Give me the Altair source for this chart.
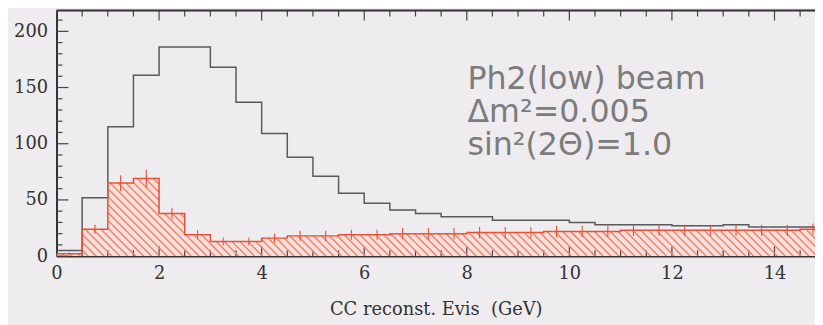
import altair as alt
import pandas as pd

# ---- data ----
bin_lo = [0.0, 0.5, 1.0, 1.5, 2.0, 2.5, 3.0, 3.5, 4.0, 4.5,
          5.0, 5.5, 6.0, 6.5, 7.0, 7.5, 8.0, 8.5, 9.0, 9.5,
          10.0, 10.5, 11.0, 11.5, 12.0, 12.5, 13.0, 13.5, 14.0, 14.5]
bin_width = 0.5
no_osc = [5, 52, 115, 161, 186, 186, 168, 137, 109, 88,
          71, 56, 47, 41, 38, 35, 35, 32, 32, 32,
          30, 28, 28, 28, 27, 27, 28, 26, 26, 26]
osc = [2, 24, 65, 69, 38, 19, 13, 13, 16, 18,
       18, 19, 19, 20, 20, 20, 21, 21, 21, 22,
       22, 22, 23, 23, 23, 23, 23, 23, 23, 24]
osc_err = [1.5, 4, 7, 8, 5, 4, 3.5, 3.5, 4, 4.5,
           4.5, 4.5, 4.5, 5, 5, 5, 5, 5, 5, 5,
           5, 5, 5, 5, 5, 5, 5, 5, 5, 5]
x_labels = [0, 2, 4, 6, 8, 10, 12, 14]
y_labels = [0, 50, 100, 150, 200]
x_minor = [0.5, 1, 1.5, 2.5, 3, 3.5, 4.5, 5, 5.5, 6.5, 7, 7.5, 8.5, 9, 9.5,
           10.5, 11, 11.5, 12.5, 13, 13.5, 14.5]
y_minor = [10, 20, 30, 40, 60, 70, 80, 90, 110, 120, 130, 140, 160, 170, 180,
           190, 210]
notes = ["Ph2(low) beam", "Δm²=0.005", "sin²(2Θ)=1.0"]
x_title = "CC reconst. Evis \u00a0(GeV)"

# ---- geometry ----
W, H = 766, 248
XMAX, YMAX = 14.79, 218.5
sx, sy = W / XMAX, H / YMAX

xs = alt.Scale(domain=[0, XMAX], nice=False, zero=False)
ys = alt.Scale(domain=[0, YMAX], nice=False, zero=False)

bins = pd.DataFrame({
    "lo": bin_lo,
    "hi": [b + bin_width for b in bin_lo],
    "mid": [b + bin_width / 2 for b in bin_lo],
    "no_osc": no_osc,
    "osc": osc,
    "elo": [v - e for v, e in zip(osc, osc_err)],
    "ehi": [v + e for v, e in zip(osc, osc_err)],
})

def steps(vals):
    xs_ = list(bin_lo) + [bin_lo[-1] + bin_width]
    ys_ = list(vals) + [vals[-1]]
    return pd.DataFrame({"x": xs_, "y": ys_})

# hatch segments inside the red bars (45 degree in screen space)
seg = []
spacing = 8.0
for lo, v in zip(bin_lo, osc):
    u0, u1, h = lo * sx, (lo + bin_width) * sx, v * sy
    c = 0.0
    while c < W + 60 + H:
        ua, ub = max(u0, c - h), min(u1, c)
        if ub > ua:
            seg.append({"x": ua / sx, "y": (c - ua) / sy,
                        "x2": ub / sx, "y2": (c - ub) / sy})
        c += spacing
hatch_df = pd.DataFrame(seg)

# ---- layers ----
axis_x = alt.Axis(values=x_labels, ticks=False, grid=False, domain=True,
                  domainColor="#333333", domainWidth=2,
                  labelFont="DejaVu Serif", labelFontSize=18, labelColor="#333333",
                  labelPadding=9, labelFlush=False,
                  title=x_title, titleFont="DejaVu Serif", titleFontSize=18,
                  titleFontWeight="normal", titleColor="#333333", titlePadding=18)
axis_y = alt.Axis(values=y_labels, ticks=False, grid=False, domain=True,
                  domainColor="#333333", domainWidth=2,
                  labelFont="DejaVu Serif", labelFontSize=18, labelColor="#333333",
                  labelPadding=9, labelFlush=False, title=None)

fill = alt.Chart(bins).mark_rect(color="#f6e1de", clip=True).encode(
    x=alt.X("lo:Q", scale=xs, axis=axis_x), x2="hi",
    y=alt.Y("osc:Q", scale=ys, axis=axis_y), y2=alt.datum(0))

TC = "#444444"

def xticks(vals, length, at_top):
    df = pd.DataFrame({"x": vals})
    y0 = 0 if at_top else H
    y1 = length if at_top else H - length
    return alt.Chart(df).mark_rule(color=TC, strokeWidth=1.2, clip=True).encode(
        x=alt.X("x:Q", scale=xs), y=alt.value(y0), y2=alt.value(y1))

def yticks(vals, length):
    df = pd.DataFrame({"y": vals})
    return alt.Chart(df).mark_rule(color=TC, strokeWidth=1.2).encode(
        y=alt.Y("y:Q", scale=ys), x=alt.value(0), x2=alt.value(length))

tick_layers = [
    xticks(x_labels, 10, False), xticks(x_minor, 6, False),
    xticks(x_labels, 10, True), xticks(x_minor, 6, True),
    yticks(y_labels, 12), yticks(y_minor, 6),
]

top_line = alt.Chart(pd.DataFrame({"a": [0]})).mark_rule(color="#333333", strokeWidth=2).encode(
    y=alt.value(0), x=alt.value(0), x2=alt.value(W))

hatch = alt.Chart(hatch_df).mark_rule(color="#f08a70", strokeWidth=1.6, clip=True).encode(
    x=alt.X("x:Q", scale=xs), y=alt.Y("y:Q", scale=ys),
    x2="x2:Q", y2="y2:Q")

red_step = alt.Chart(steps(osc)).mark_line(interpolate="step-after", color="#ea5034",
                                           strokeWidth=1.5, clip=True).encode(
    x=alt.X("x:Q", scale=xs), y=alt.Y("y:Q", scale=ys))
black_step = alt.Chart(steps(no_osc)).mark_line(interpolate="step-after", color="#5a5a5a",
                                                strokeWidth=1.5, clip=True).encode(
    x=alt.X("x:Q", scale=xs), y=alt.Y("y:Q", scale=ys))
errs = alt.Chart(bins).mark_rule(color="#ea5034", strokeWidth=1.1, clip=True).encode(
    x=alt.X("mid:Q", scale=xs), y=alt.Y("elo:Q", scale=ys), y2="ehi:Q")

notes_df = pd.DataFrame({"t": notes, "row": [79, 113, 146]})
text = alt.Chart(notes_df).mark_text(align="left", baseline="alphabetic",
                                     font="DejaVu Sans", fontSize=32,
                                     color="#7c7c7c").encode(
    x=alt.value(415), y=alt.Y("row:Q", scale=None), text="t:N")

chart = alt.layer(fill, *tick_layers, hatch, black_step, red_step, errs,
                  top_line, text).properties(
    width=W, height=H, autosize="none",
    padding={"left": 49, "top": 1, "right": 0, "bottom": 68},
    background="#eeecee",
).configure_view(stroke=None)

chart.save("out.html", embed_options={"renderer": "svg", "actions": False})
